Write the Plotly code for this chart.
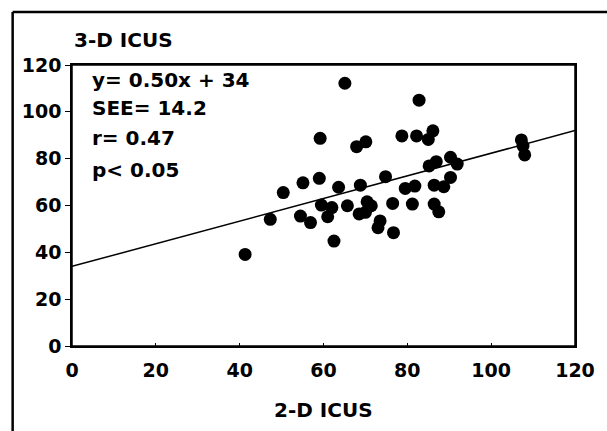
import plotly.graph_objects as go

x_2d = [65.1, 59.2, 67.9, 70.1, 78.7, 82.2, 82.8, 50.4, 55.1, 59.0, 63.6, 68.8, 74.8,
        79.5, 81.8, 47.3, 54.5, 56.9, 59.5, 62.0, 61.0, 62.5, 65.7, 70.4, 71.4, 68.5,
        70.0, 73.5, 73.0, 76.5, 76.7, 41.3, 81.2, 86.1, 85.0, 85.2, 86.9, 90.3, 91.9,
        107.2, 107.6, 108.0, 86.4, 88.7, 90.3, 86.4, 87.5]
y_3d = [112.2, 88.7, 85.1, 87.2, 89.7, 89.7, 105.0, 65.5, 69.7, 71.6, 67.8, 68.7, 72.3,
        67.3, 68.3, 54.1, 55.5, 52.7, 60.2, 59.1, 55.2, 44.8, 59.9, 61.6, 59.9, 56.4,
        57.1, 53.4, 50.5, 60.9, 48.4, 39.1, 60.6, 91.9, 88.2, 76.9, 78.7, 80.6, 77.7,
        88.0, 85.4, 81.6, 68.7, 68.0, 72.0, 60.6, 57.3]
line_x = [0, 120]
line_y = [34, 92]
stats_text = ["y= 0.50x + 34", "SEE= 14.2", "r= 0.47", "p< 0.05"]
tick_vals = [0, 20, 40, 60, 80, 100, 120]

FONT = "DejaVu Sans"
BOLD = dict(family=FONT, color="black", weight="bold")

fig = go.Figure()
fig.add_trace(go.Scatter(x=line_x, y=line_y, mode="lines",
                         line=dict(color="black", width=1.5), showlegend=False))
fig.add_trace(go.Scatter(x=x_2d, y=y_3d, mode="markers",
                         marker=dict(color="black", size=13, line=dict(width=0)),
                         showlegend=False))

ys = [0.947, 0.847, 0.740, 0.626]
for t, yy in zip(stats_text, ys):
    fig.add_annotation(x=0.035, y=yy, xref="paper", yref="paper", text=t,
                       showarrow=False, xanchor="left", yanchor="middle",
                       font=dict(size=20, **BOLD))

fig.add_annotation(x=0, y=1.089, xref="paper", yref="paper", text="3-D ICUS",
                   showarrow=False, xanchor="left", yanchor="middle",
                   font=dict(size=20, **BOLD))
fig.add_annotation(x=0.5, y=-0.228, xref="paper", yref="paper", text="2-D ICUS",
                   showarrow=False, xanchor="center", yanchor="middle",
                   font=dict(size=20, **BOLD))

# plot box
fig.add_shape(type="rect", xref="paper", yref="paper", x0=0, x1=1, y0=0, y1=1,
              line=dict(color="black", width=1.5))
# outer frame lines (top and left)
fig.add_shape(type="line", xref="paper", yref="paper", x0=-0.118, x1=1.1,
              y0=1.189, y1=1.189, line=dict(color="black", width=2.5))
fig.add_shape(type="line", xref="paper", yref="paper", x0=-0.118, x1=-0.118,
              y0=1.189, y1=-0.35, line=dict(color="black", width=2.5))

fig.update_xaxes(range=[0, 120], tickvals=tick_vals, showgrid=False, zeroline=False,
                 showline=True, linecolor="black", linewidth=1.5, mirror=True,
                 ticks="inside", ticklen=3, tickcolor="black", ticklabelstandoff=6,
                 tickfont=dict(size=19, **BOLD))
fig.update_yaxes(range=[0, 120], tickvals=tick_vals, showgrid=False, zeroline=False,
                 showline=True, linecolor="black", linewidth=1.5, mirror=True,
                 ticks="outside", ticklen=5, tickcolor="black",
                 tickfont=dict(size=19, **BOLD))

fig.update_layout(width=607, height=431, margin=dict(l=72, r=26, t=65, b=85),
                  plot_bgcolor="white", paper_bgcolor="white")

fig.write_html("out.html", config={"displayModeBar": False},
               post_script="document.body.style.margin='0';document.body.style.overflow='hidden';")
